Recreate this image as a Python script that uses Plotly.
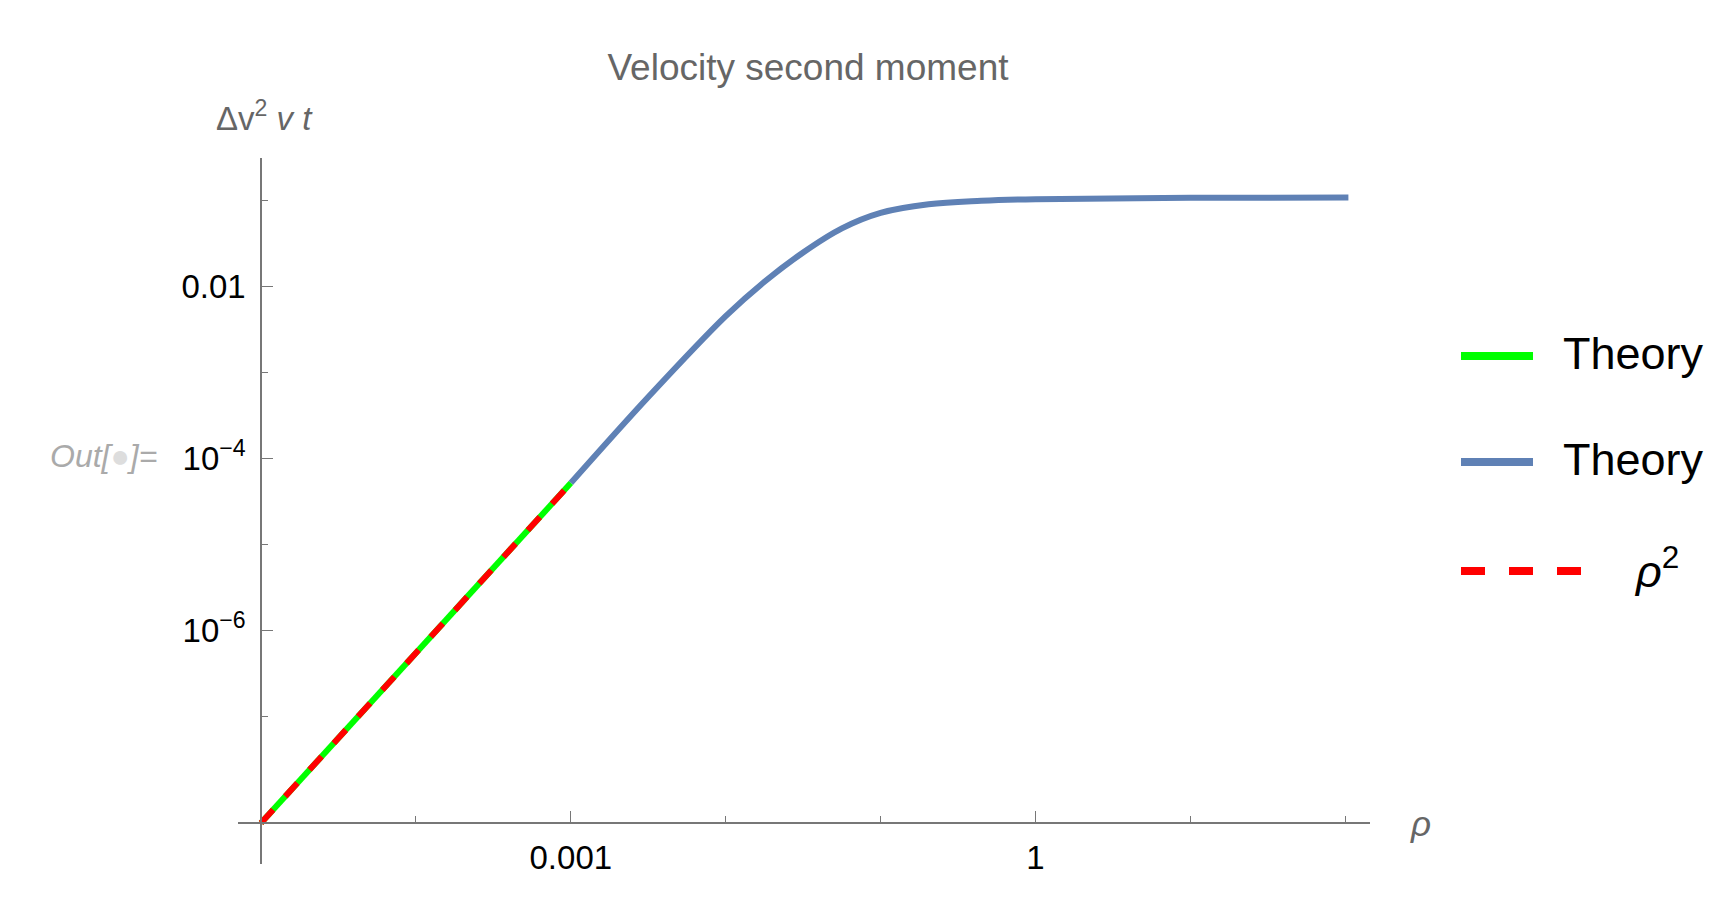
import plotly.graph_objects as go

# Data
rho_theory_blue = [1e-3, 10**-2.5, 1e-2, 10**-1.75, 10**-1.5, 10**-1.25, 1e-1, 10**-0.69, 10**-0.35, 1.0, 10.0, 10**2.02]
f_theory_blue = [10**-4.29, 10**-3.29, 10**-2.35, 10**-1.95, 10**-1.61, 10**-1.33, 10**-1.15, 10**-1.05, 10**-1.01, 10**-0.99, 10**-0.975, 10**-0.97]
rho_low = [1e-5, 1e-4, 1e-3]
f_theory_green = [10**-8.24, 10**-6.27, 10**-4.29]
f_rho2 = [10**-8.24, 10**-6.27, 10**-4.29]

x_tickvals = [1e-3, 1]
x_ticktext = ["0.001", "1"]
x_minor = [1e-4, 1e-2, 1e-1, 10, 100]
y_tickvals = [1e-2, 1e-4, 1e-6]
y_ticktext = ["0.01", "10<sup>−4</sup>", "10<sup>−6</sup>"]
y_minor = [1e-1, 1e-3, 1e-5, 1e-7]

W, H = 1713, 899
L, R, T, B = 230, 1362, 150, 856
x0px, y0px = 253, 815
dec_x, dec_y = 154.9, 86.05

xr = [-5 - (x0px - L) / dec_x, -5 + (R - x0px) / dec_x]
yr = [-8.24 - (B - y0px) / dec_y, -8.24 + (y0px - T) / dec_y]

fnt = "Liberation Sans, Arial, sans-serif"
fig = go.Figure()
fig.add_trace(go.Scatter(x=rho_theory_blue, y=f_theory_blue, mode="lines",
                         line=dict(color="#5f81b5", width=6, shape="spline"), name="Theory"))
fig.add_trace(go.Scatter(x=rho_low, y=f_theory_green, mode="lines",
                         line=dict(color="#00ff00", width=6), name="Theory"))
fig.add_trace(go.Scatter(x=rho_low, y=f_rho2, mode="lines",
                         line=dict(color="#ff0000", width=6, dash="dash"), name="ρ²"))

axcol = "#777777"
fig.update_layout(
    width=W, height=H, showlegend=False,
    paper_bgcolor="white", plot_bgcolor="white",
    margin=dict(l=L, r=W - R, t=T, b=H - B),
    font=dict(family=fnt, size=33, color="black"),
    title=dict(text="Velocity second moment", x=800 / W, xanchor="center", y=1 - 59 / H,
               yanchor="middle", font=dict(size=37, color="#666666")),
    xaxis=dict(type="log", range=xr, anchor="free", position=(B - y0px) / (B - T),
               showline=True, linecolor=axcol, linewidth=1.5, showgrid=False, zeroline=False,
               tickvals=x_tickvals, ticktext=x_ticktext, ticks="inside", ticklen=11,
               tickcolor=axcol, ticklabelstandoff=6,
               minor=dict(tickvals=x_minor, ticks="inside", ticklen=6, tickcolor=axcol)),
    yaxis=dict(type="log", range=yr, anchor="free", position=(x0px - L) / (R - L),
               showline=True, linecolor=axcol, linewidth=1.5, showgrid=False, zeroline=False,
               tickvals=y_tickvals, ticktext=y_ticktext, ticks="inside", ticklen=11,
               tickcolor=axcol, ticklabelstandoff=8,
               minor=dict(tickvals=y_minor, ticks="inside", ticklen=6, tickcolor=axcol)),
)

def px(x):
    return (x - L) / (R - L)

def py(y):
    return (B - y) / (B - T)

ann = [
    dict(text="Δv<sup>2</sup> <i>v t</i>", x=px(206), y=py(108), xanchor="left", yanchor="middle",
         font=dict(size=33, color="#666666")),
    dict(text="<i>ρ</i>", x=px(1400), y=py(815), xanchor="left", yanchor="middle",
         font=dict(size=35, color="#666666")),
    dict(text="<i>Out[<span style='color:#dddddd'>●</span>]=</i>", x=px(40), y=py(448),
         xanchor="left", yanchor="middle", font=dict(size=32, color="#aaaaaa")),
]
leg_y = [348, 454, 563]
leg_txt = ["Theory", "Theory", "<i>ρ</i><sup>2</sup>"]
leg_col = ["#00ff00", "#5f81b5", "#ff0000"]
leg_len = [72, 72, 128]
leg_txt_x = [1553, 1553, 1624]
shapes = []
for yy, t, c, ln, tx in zip(leg_y, leg_txt, leg_col, leg_len, leg_txt_x):
    shapes.append(dict(type="line", xref="paper", yref="paper", x0=px(1453), x1=px(1453 + ln),
                       y0=py(yy), y1=py(yy), line=dict(color=c, width=8,
                       dash="dash" if c == "#ff0000" else "solid")))
    ann.append(dict(text=t, x=px(tx), y=py(yy - 3), xanchor="left", yanchor="middle",
                    font=dict(size=45, color="black")))
for a in ann:
    a.update(xref="paper", yref="paper", showarrow=False)
fig.update_layout(annotations=ann, shapes=shapes)
fig.write_html("out.html")
